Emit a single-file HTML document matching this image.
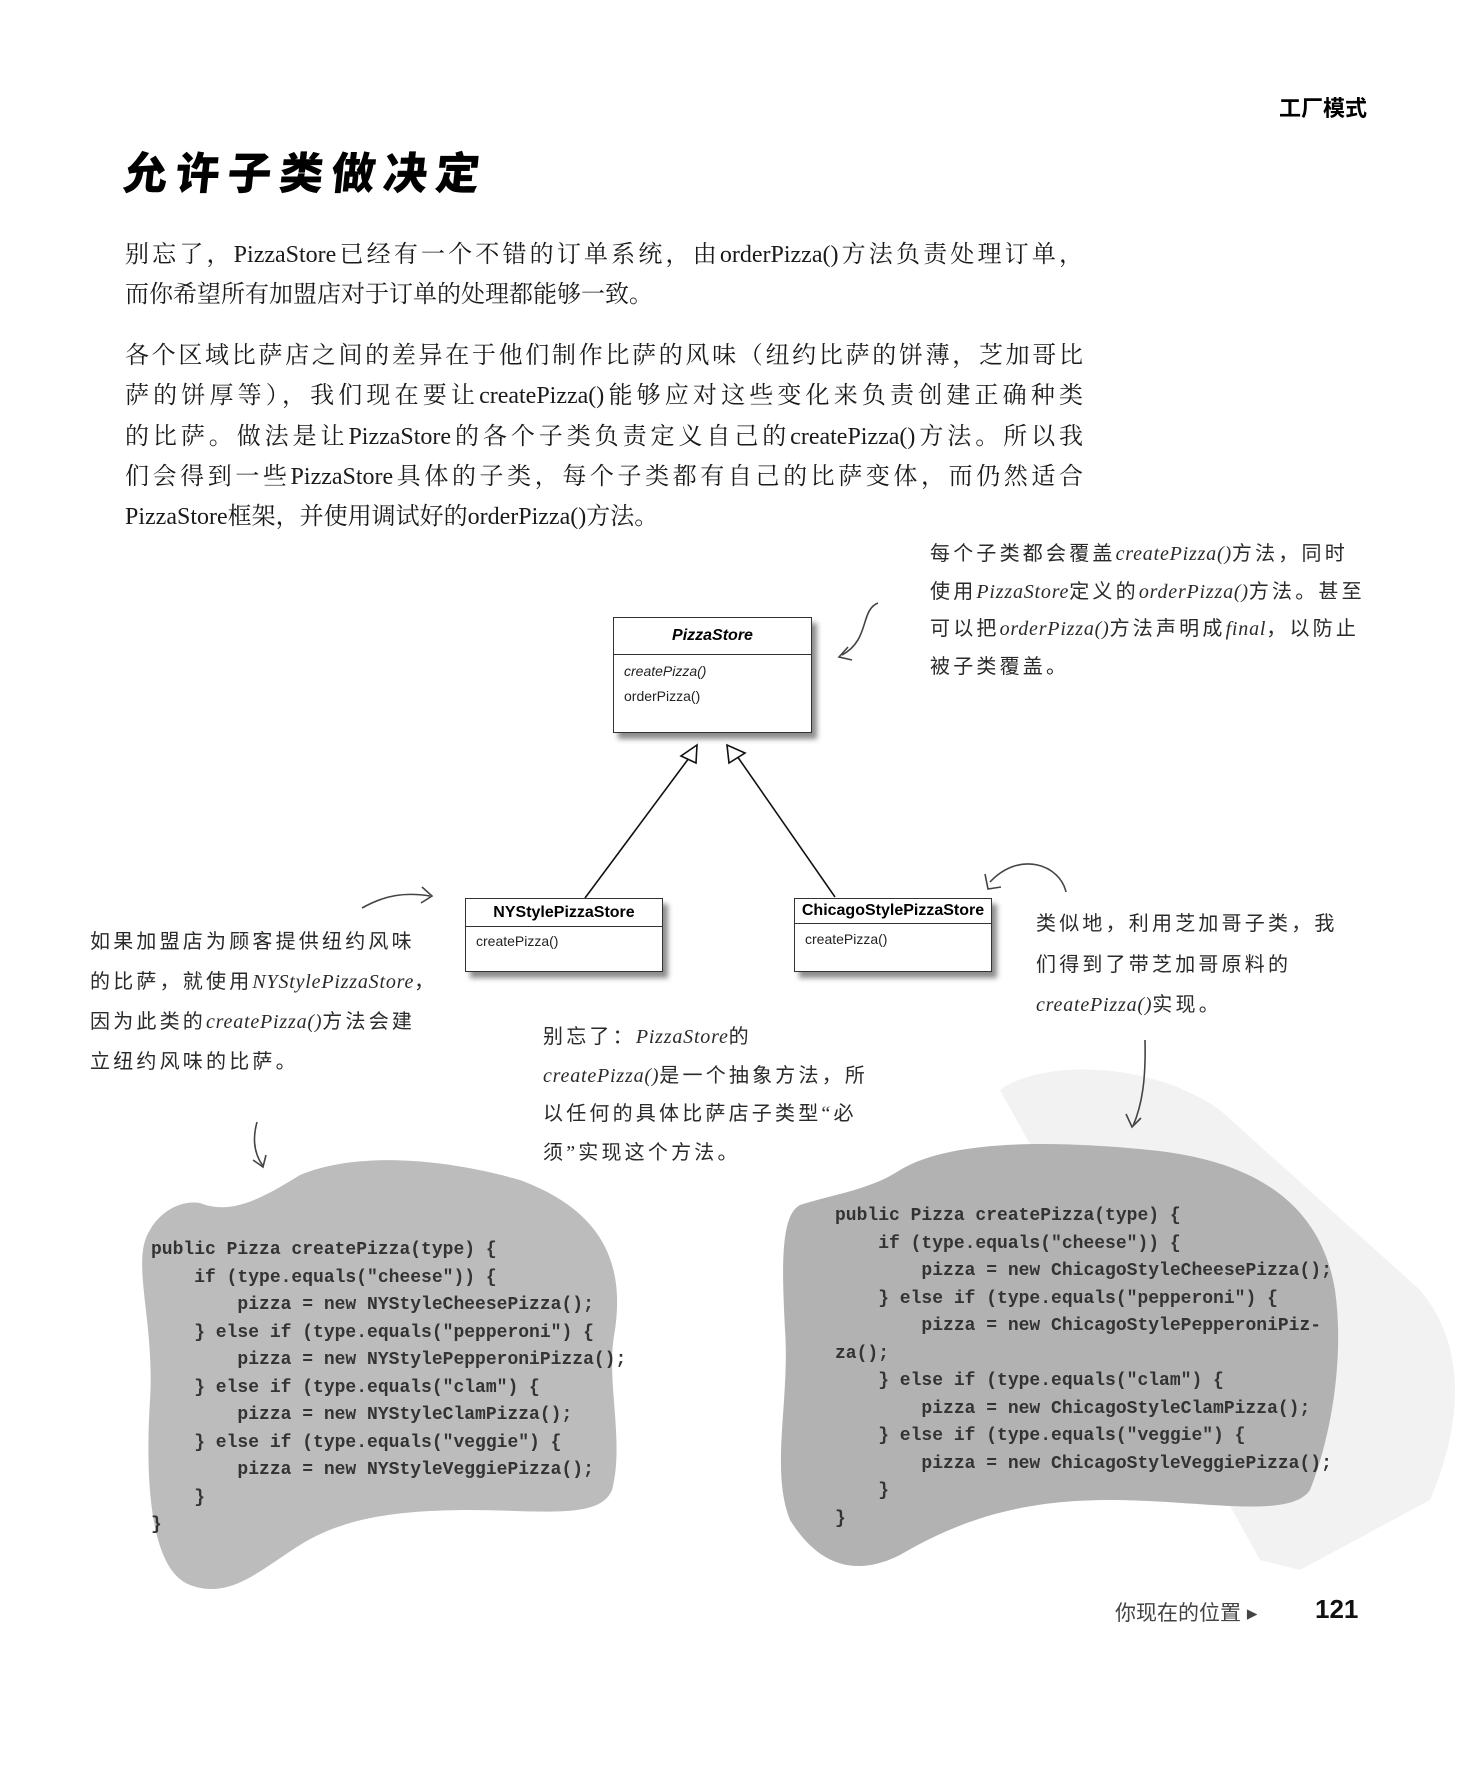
<!DOCTYPE html>
<html><head><meta charset="utf-8">
<style>
body{margin:0;background:#fff;}
#p{position:relative;width:1474px;height:1775px;overflow:hidden;background:#fff;}
.a{position:absolute;white-space:nowrap;}
.para{font-family:"Liberation Serif","Noto Serif CJK SC",serif;font-size:24px;color:#1a1a1a;left:125px;width:958px;}
.j{text-align:justify;text-align-last:justify;}
.hw{font-family:"Liberation Serif","Noto Sans CJK SC",sans-serif;font-size:20px;color:#2a2a2a;letter-spacing:3.2px;}
.hw i{font-style:italic;letter-spacing:0.8px;}
.code{font-family:"Liberation Mono",monospace;font-size:18px;color:#333;font-weight:bold;line-height:27.5px;white-space:pre;}
.box{position:absolute;border:1.5px solid #333;background:#fff;box-shadow:5px 6px 5px rgba(0,0,0,0.45);font-family:"Liberation Sans",sans-serif;}
.box .h{border-bottom:1.5px solid #333;font-weight:bold;font-size:16px;text-align:center;}
.box .m{font-size:14px;padding-left:10px;color:#222;}
</style></head><body><div id="p">
<div class="a" style="left:1279px;top:91px;font-family:'Liberation Sans','Noto Sans CJK SC',sans-serif;font-weight:bold;font-size:22px;">工厂模式</div>
<div class="a" style="left:124px;top:138px;font-family:'Noto Sans CJK SC',sans-serif;font-weight:900;font-size:44px;letter-spacing:8px;transform:skewX(-6deg);">允许子类做决定</div>

<div class="a para j" style="top:234px;">别忘了，PizzaStore已经有一个不错的订单系统，由orderPizza()方法负责处理订单，</div>
<div class="a para" style="top:274px;">而你希望所有加盟店对于订单的处理都能够一致。</div>
<div class="a para j" style="top:335px;">各个区域比萨店之间的差异在于他们制作比萨的风味（纽约比萨的饼薄，芝加哥比</div>
<div class="a para j" style="top:375px;">萨的饼厚等），我们现在要让createPizza()能够应对这些变化来负责创建正确种类</div>
<div class="a para j" style="top:416px;">的比萨。做法是让PizzaStore的各个子类负责定义自己的createPizza()方法。所以我</div>
<div class="a para j" style="top:456px;">们会得到一些PizzaStore具体的子类，每个子类都有自己的比萨变体，而仍然适合</div>
<div class="a para" style="top:496px;">PizzaStore框架，并使用调试好的orderPizza()方法。</div>

<svg class="a" style="left:0;top:0" width="1474" height="1775">
<defs><filter id="n"><feTurbulence baseFrequency="0.9" numOctaves="2" seed="3"/><feColorMatrix values="0 0 0 0 0.6 0 0 0 0 0.6 0 0 0 0 0.6 0 0 0 0.25 0"/><feComposite in2="SourceGraphic" operator="in"/></filter></defs>
<path d="M1000 1090 C1040 1060 1150 1060 1220 1110 L1420 1290 C1470 1350 1460 1430 1430 1500 L1300 1570 L1260 1560 Z" fill="#f2f2f2"/>
<path d="M200 1203 C230 1215 260 1200 300 1175 C360 1150 450 1160 520 1180 C600 1210 625 1260 615 1330 C605 1380 625 1440 612 1490 C600 1520 540 1510 470 1510 C390 1510 340 1520 300 1545 C260 1570 230 1600 190 1585 C150 1570 145 1480 150 1400 C155 1320 130 1260 150 1230 C160 1212 180 1200 200 1203 Z" fill="#bbbbbb"/>
<path d="M800 1205 C830 1195 870 1190 900 1170 C950 1140 1050 1140 1150 1150 C1250 1160 1320 1200 1335 1290 C1345 1360 1330 1440 1310 1490 C1290 1520 1200 1500 1110 1500 C1020 1500 960 1520 900 1555 C850 1580 815 1560 790 1520 C770 1470 790 1400 785 1330 C782 1270 780 1215 800 1205 Z" fill="#b2b2b2"/>
<path d="M200 1203 C230 1215 260 1200 300 1175 C360 1150 450 1160 520 1180 C600 1210 625 1260 615 1330 C605 1380 625 1440 612 1490 C600 1520 540 1510 470 1510 C390 1510 340 1520 300 1545 C260 1570 230 1600 190 1585 C150 1570 145 1480 150 1400 C155 1320 130 1260 150 1230 C160 1212 180 1200 200 1203 Z" filter="url(#n)" fill="#000"/>
<g stroke="#111" stroke-width="1.6" fill="none">
<line x1="585" y1="898" x2="689" y2="758"/>
<line x1="835" y1="897" x2="737" y2="756"/>
<polygon points="697,745 681,756 696,763" fill="#fff"/>
<polygon points="727,745 729,763 745,753" fill="#fff"/>
</g>
<g stroke="#444" stroke-width="1.6" fill="none">
<path d="M878 603 C860 610 870 640 842 655"/><path d="M848 647 L839 657 L852 660"/>
<path d="M362 908 C385 895 405 892 430 896"/><path d="M422 887 L432 896 L421 903"/>
<path d="M257 1122 C252 1140 255 1155 263 1166"/><path d="M253 1160 L263 1167 L266 1155"/>
<path d="M1066 892 C1060 865 1020 850 990 882"/><path d="M985 874 L988 889 L1001 887"/>
<path d="M1145 1040 C1146 1080 1142 1105 1133 1126"/><path d="M1126 1114 L1132 1127 L1141 1118"/>
</g>
</svg>

<div class="box" style="left:613px;top:617px;width:197px;height:114px;">
<div class="h" style="font-style:italic;height:36px;line-height:36px;">PizzaStore</div>
<div class="m" style="font-style:italic;margin-top:8px;">createPizza()</div>
<div class="m" style="margin-top:9px;">orderPizza()</div>
</div>
<div class="box" style="left:465px;top:898px;width:196px;height:72px;">
<div class="h" style="height:27px;line-height:27px;">NYStylePizzaStore</div>
<div class="m" style="margin-top:6px;">createPizza()</div>
</div>
<div class="box" style="left:794px;top:898px;width:196px;height:72px;">
<div class="h" style="height:24px;line-height:24px;">ChicagoStylePizzaStore</div>
<div class="m" style="margin-top:7px;">createPizza()</div>
</div>

<div class="a hw" style="left:930px;top:536px;line-height:37.5px;">每个子类都会覆盖<i>createPizza()</i>方法，同时<br>使用<i>PizzaStore</i>定义的<i>orderPizza()</i>方法。甚至<br>可以把<i>orderPizza()</i>方法声明成<i>final</i>，以防止<br>被子类覆盖。</div>
<div class="a hw" style="left:90px;top:922px;line-height:40px;">如果加盟店为顾客提供纽约风味<br>的比萨，就使用<i>NYStylePizzaStore</i>，<br>因为此类的<i>createPizza()</i>方法会建<br>立纽约风味的比萨。</div>
<div class="a hw" style="left:1036px;top:904px;line-height:40.5px;">类似地，利用芝加哥子类，我<br>们得到了带芝加哥原料的<br><i>createPizza()</i>实现。</div>
<div class="a hw" style="left:543px;top:1018px;line-height:38.5px;">别忘了：<i>PizzaStore</i>的<br><i>createPizza()</i>是一个抽象方法，所<br>以任何的具体比萨店子类型“必<br>须”实现这个方法。</div>

<div class="a code" style="left:151px;top:1237px;">public Pizza createPizza(type) {
    if (type.equals("cheese")) {
        pizza = new NYStyleCheesePizza();
    } else if (type.equals("pepperoni") {
        pizza = new NYStylePepperoniPizza();
    } else if (type.equals("clam") {
        pizza = new NYStyleClamPizza();
    } else if (type.equals("veggie") {
        pizza = new NYStyleVeggiePizza();
    }
}</div>
<div class="a code" style="left:835px;top:1203px;">public Pizza createPizza(type) {
    if (type.equals("cheese")) {
        pizza = new ChicagoStyleCheesePizza();
    } else if (type.equals("pepperoni") {
        pizza = new ChicagoStylePepperoniPiz-
za();
    } else if (type.equals("clam") {
        pizza = new ChicagoStyleClamPizza();
    } else if (type.equals("veggie") {
        pizza = new ChicagoStyleVeggiePizza();
    }
}</div>

<div class="a" style="left:1115px;top:1597px;font-family:'Liberation Sans','Noto Sans CJK SC',sans-serif;font-size:21px;color:#444;">你现在的位置 ▸</div>
<div class="a" style="left:1315px;top:1594px;font-family:'Liberation Sans',sans-serif;font-weight:bold;font-size:26px;color:#111;">121</div>
</div></body></html>
